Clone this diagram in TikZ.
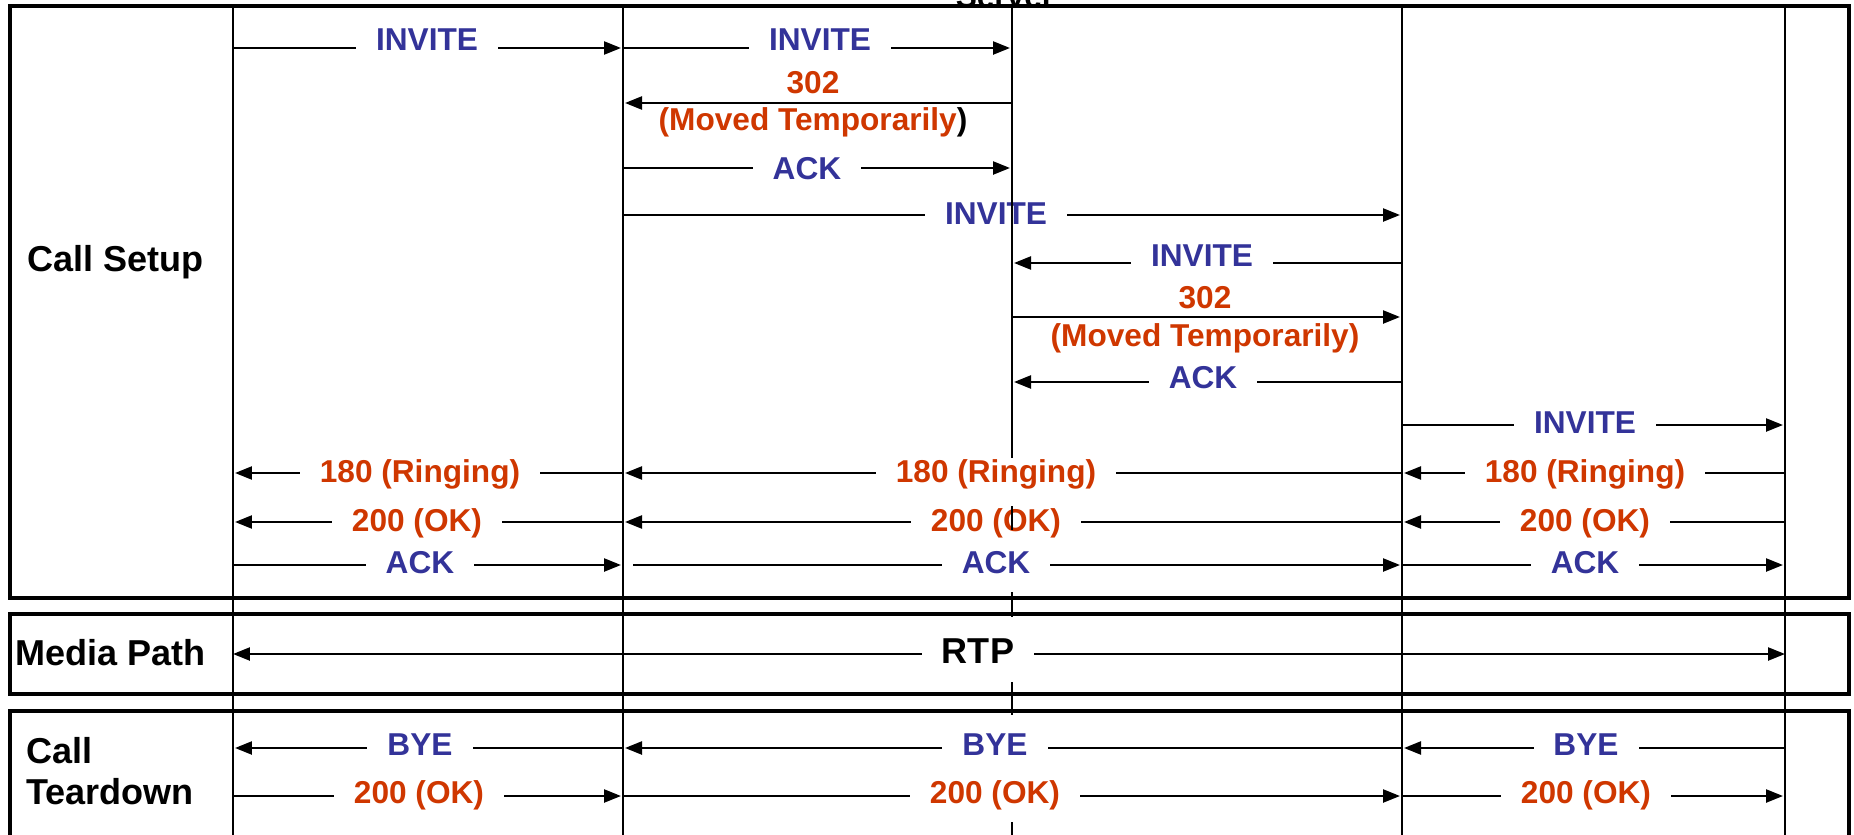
\documentclass[tikz,border=0pt]{standalone}
\usepackage{fontspec}
\setmainfont{Liberation Sans}
\usepackage{xcolor}
\usetikzlibrary{arrows.meta}
\definecolor{sipblue}{RGB}{51,51,153}
\definecolor{sipred}{RGB}{207,55,0}

\begin{document}
\begin{tikzpicture}[x=0.02cm, y=-0.02cm,
  frame/.style={line width=0.08cm},
  life/.style={line width=0.05cm},
  msg/.style={-{Triangle[length=0.34cm,width=0.26cm]}, line width=0.048cm, shorten >=0.04cm},
  media/.style={{Triangle[length=0.34cm,width=0.26cm]}-{Triangle[length=0.34cm,width=0.26cm]}, line width=0.048cm},
  txt/.style={anchor=base, inner sep=0pt, font=\fontsize{18}{21}\selectfont\bfseries},
  lbl/.style={txt, fill=white, inner xsep=0.4cm, inner ysep=0.04cm},
  req/.style={lbl, text=sipblue},
  resp/.style={lbl, text=sipred},
  sect/.style={anchor=base west, inner sep=0pt, font=\fontsize{20.5}{24}\selectfont\bfseries}]

\useasboundingbox (0,0) rectangle (1854,835);

\coordinate (ua1) at (233,6);
\coordinate (px1) at (623,6);
\coordinate (rs) at (1012,6);
\coordinate (px2) at (1402,6);
\coordinate (ua2) at (1785,6);
\coordinate (bot) at (0,835);

\coordinate (r1) at (0,48);
\coordinate (r2) at (0,103);
\coordinate (r3) at (0,168);
\coordinate (r4) at (0,215);
\coordinate (r5) at (0,263);
\coordinate (r6) at (0,317);
\coordinate (r7) at (0,382);
\coordinate (r8) at (0,425);
\coordinate (r9) at (0,473);
\coordinate (r10) at (0,522);
\coordinate (r11) at (0,565);
\coordinate (rtp) at (0,654);
\coordinate (r12) at (0,748);
\coordinate (r13) at (0,796);

\node[txt] (server) at (1005,8) {Server};

\draw[frame, fill=white] (10,6) rectangle (1849,598);
\draw[frame, fill=white] (10,614) rectangle (1849,694);
\draw[frame] (10,850) -- (10,711) -- (1849,711) -- (1849,850);

\node[sect] (setup) at (27,271) {Call Setup};
\node[sect] (path) at (15,665) {Media Path};
\node[sect] (tearA) at (26,763) {Call};
\node[sect] (tearB) at (26,804) {Teardown};

\draw[life] (ua1) -- (ua1 |- bot);
\draw[life] (px1) -- (px1 |- bot);
\draw[life] (px2) -- (px2 |- bot);
\draw[life] (ua2) -- (ua2 |- bot);

\draw[msg] (ua1 |- r1) -- (px1 |- r1);
\draw[msg] (px1 |- r1) -- (rs |- r1);
\draw[msg] (rs |- r2) -- (px1 |- r2);
\draw[msg] (px1 |- r3) -- (rs |- r3);
\draw[msg] (px1 |- r4) -- (px2 |- r4);
\draw[msg] (px2 |- r5) -- (rs |- r5);
\draw[msg] (rs |- r6) -- (px2 |- r6);
\draw[msg] (px2 |- r7) -- (rs |- r7);
\draw[msg] (px2 |- r8) -- (ua2 |- r8);
\draw[msg] (ua2 |- r9) -- (px2 |- r9);
\draw[msg] (px2 |- r9) -- (px1 |- r9);
\draw[msg] (px1 |- r9) -- (ua1 |- r9);
\draw[msg] (ua2 |- r10) -- (px2 |- r10);
\draw[msg] (px2 |- r10) -- (px1 |- r10);
\draw[msg] (px1 |- r10) -- (ua1 |- r10);
\draw[msg] (ua1 |- r11) -- (px1 |- r11);
\draw[msg, shorten <=0.2cm] (px1 |- r11) -- (px2 |- r11);
\draw[msg] (px2 |- r11) -- (ua2 |- r11);
\draw[media] (ua1 |- rtp) -- (ua2 |- rtp);
\draw[msg] (ua2 |- r12) -- (px2 |- r12);
\draw[msg] (px2 |- r12) -- (px1 |- r12);
\draw[msg] (px1 |- r12) -- (ua1 |- r12);
\draw[msg] (ua1 |- r13) -- (px1 |- r13);
\draw[msg] (px1 |- r13) -- (px2 |- r13);
\draw[msg] (px2 |- r13) -- (ua2 |- r13);

\node[req] (inviteA) at (427,51) {INVITE};
\node[req] (inviteB) at (820,51) {INVITE};
\node[txt, text=sipred] (movedA) at (813,93) {302};
\node[txt, text=sipred] (movedAt) at (813,130) {(Moved Temporarily\textcolor{black}{)}};
\node[req] (ackA) at (807,179) {ACK};
\node[req] (inviteC) at (996,224) {INVITE};
\node[req] (inviteD) at (1202,266) {INVITE};
\node[txt, text=sipred] (movedB) at (1205,308) {302};
\node[txt, text=sipred] (movedBt) at (1205,346) {(Moved Temporarily)};
\node[req] (ackB) at (1203,388) {ACK};
\node[req] (inviteE) at (1585,433) {INVITE};
\node[resp] (ringA) at (420,482) {180 (Ringing)};
\node[resp] (ringB) at (996,482) {180 (Ringing)};
\node[resp] (ringC) at (1585,482) {180 (Ringing)};
\node[resp] (okA) at (417,531) {200 (OK)};
\node[resp] (okB) at (996,531) {200 (OK)};
\node[resp] (okC) at (1585,531) {200 (OK)};
\node[req] (ackC) at (420,573) {ACK};
\node[req] (ackD) at (996,573) {ACK};
\node[req] (ackE) at (1585,573) {ACK};
\node[lbl, font=\fontsize{20.5}{24}\selectfont\bfseries] (rtplbl) at (978,663) {RTP};
\node[req] (byeA) at (420,755) {BYE};
\node[req] (byeB) at (995,755) {BYE};
\node[req] (byeC) at (1586,755) {BYE};
\node[resp] (okD) at (419,803) {200 (OK)};
\node[resp] (okE) at (995,803) {200 (OK)};
\node[resp] (okF) at (1586,803) {200 (OK)};

\draw[life] (rs) -- (rs |- 0,458);
\draw[life] (rs |- 0,506) -- (rs |- 0,530);
\draw[life] (rs |- 0,592) -- (rs |- 0,617);
\draw[life] (rs |- 0,682) -- (rs |- 0,715);
\draw[life] (rs |- 0,822) -- (rs |- bot);
\end{tikzpicture}
\end{document}
